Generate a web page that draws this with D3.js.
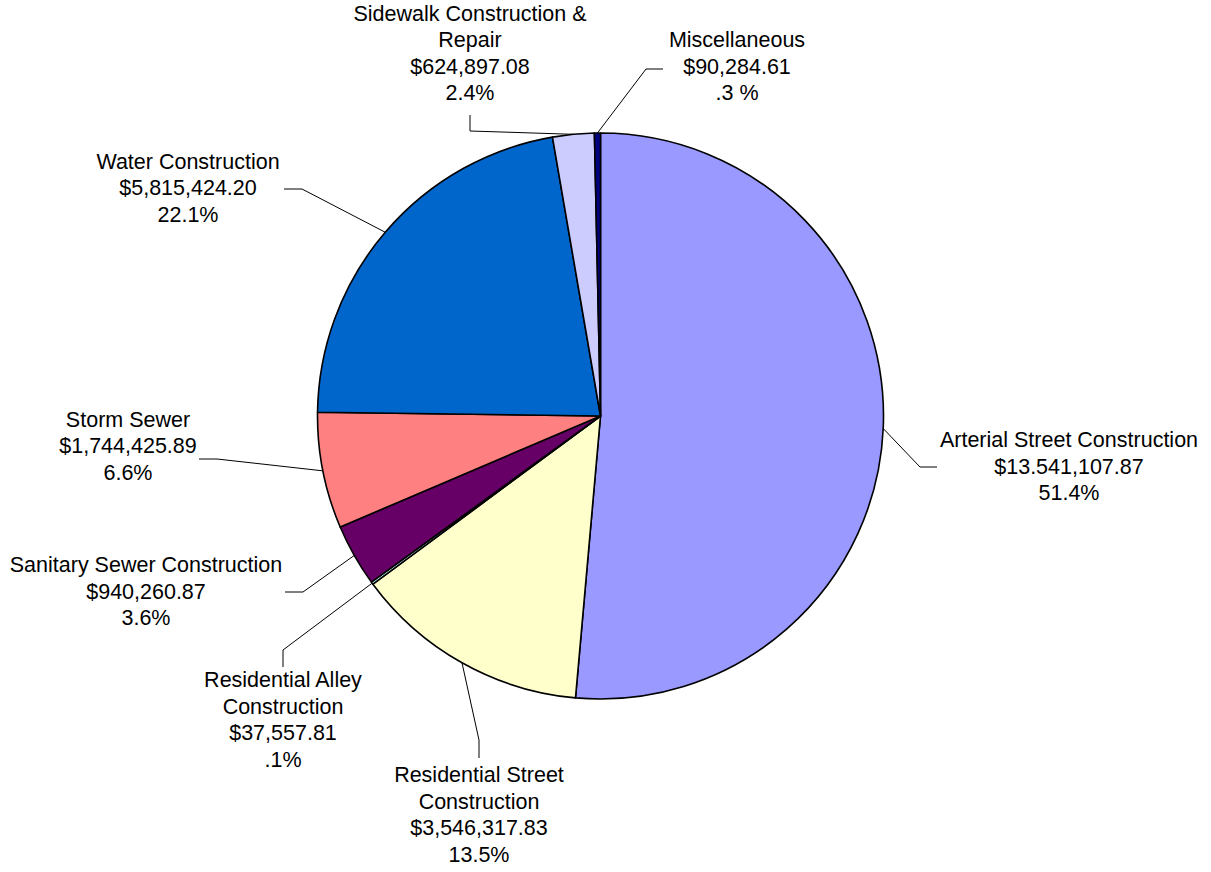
<!DOCTYPE html>
<html>
<head>
<meta charset="utf-8">
<script src="https://cdn.jsdelivr.net/npm/d3@7"></script>
<style>
  body { margin: 0; background: #fff; }
  svg { display: block; }
  text { font-family: "Liberation Sans", Arial, sans-serif; font-size: 21.5px; fill: #000; }
</style>
</head>
<body>
<div id="chart"></div>
<script>
// data, clockwise from 12 o'clock
const categories = ["Arterial Street Construction", "Residential Street Construction", "Residential Alley Construction",
    "Sanitary Sewer Construction", "Storm Sewer", "Water Construction", "Sidewalk Construction & Repair", "Miscellaneous"];
const amounts = [13541107.87, 3546317.83, 37557.81, 940260.87, 1744425.89, 5815424.20, 624897.08, 90284.61];
// label text as printed on the chart (kept verbatim)
const labelLines = [
    ["Arterial Street Construction", "$13.541,107.87", "51.4%"],
    ["Residential Street", "Construction", "$3,546,317.83", "13.5%"],
    ["Residential Alley", "Construction", "$37,557.81", ".1%"],
    ["Sanitary Sewer Construction", "$940,260.87", "3.6%"],
    ["Storm Sewer", "$1,744,425.89", "6.6%"],
    ["Water Construction", "$5,815,424.20", "22.1%"],
    ["Sidewalk Construction &", "Repair", "$624,897.08", "2.4%"],
    ["Miscellaneous", "$90,284.61", ".3 %"]
];
const colors = ["#9999FF", "#FFFFCC", "#CCFFFF", "#660066", "#FF8080", "#0066CC", "#CCCCFF", "#000080"];

// manual label placement (label centre x, first baseline y, leader elbow, leader end)
const labelLayout = [
    { x: 1069, y: 447, elbow: [920, 467], end: [937, 467] },
    { x: 479, y: 782, elbow: [479, 740], end: [479, 758] },
    { x: 283, y: 687, elbow: [283, 650], end: [283, 667] },
    { x: 146, y: 572, elbow: [303, 592], end: [285, 592] },
    { x: 128, y: 426.5, elbow: [217, 459], end: [199, 459] },
    { x: 188, y: 168.5, elbow: [302, 189], end: [284, 189] },
    { x: 470, y: 20.5, elbow: [470, 131], end: [470, 115] },
    { x: 737, y: 47, elbow: [646, 69], end: [663, 69] }
];

function drawPie() {
    const width = 1211, height = 872;
    const cx = 600.5, cy = 416, radius = 283;
    const lineH = 26.5;

    const svg = d3.select("#chart").append("svg").attr("width", width).attr("height", height);
    const g = svg.append("g").attr("transform", `translate(${cx},${cy})`);

    const rows = categories.map((c, i) => ({ name: c, value: amounts[i], i }));
    const pie = d3.pie().sort(null).value(d => d.value);
    const arc = d3.arc().innerRadius(0).outerRadius(radius);
    const arcs = pie(rows);

    g.selectAll("path.slice").data(arcs).join("path")
        .attr("class", "slice")
        .attr("d", arc)
        .attr("fill", d => colors[d.data.i])
        .attr("stroke", "#000")
        .attr("stroke-width", 1.6)
        .attr("stroke-linejoin", "round");

    // leader lines from arc mid-point
    svg.append("g").selectAll("polyline").data(arcs).join("polyline")
        .attr("fill", "none").attr("stroke", "#000").attr("stroke-width", 1)
        .attr("points", d => {
            const a = (d.startAngle + d.endAngle) / 2;
            const p0 = [cx + radius * Math.sin(a), cy - radius * Math.cos(a)];
            const L = labelLayout[d.data.i];
            return [p0, L.elbow, L.end].map(p => p.join(",")).join(" ");
        });

    const labels = svg.append("g").selectAll("text").data(arcs).join("text")
        .attr("text-anchor", "middle")
        .attr("x", d => labelLayout[d.data.i].x)
        .attr("y", d => labelLayout[d.data.i].y);
    labels.selectAll("tspan").data(d => labelLines[d.data.i].map(t => ({ t, x: labelLayout[d.data.i].x })))
        .join("tspan")
        .attr("x", d => d.x)
        .attr("dy", (d, j) => j === 0 ? 0 : lineH)
        .text(d => d.t);
}

document.addEventListener("DOMContentLoaded", () => {
    drawPie();
});
</script>
</body>
</html>
